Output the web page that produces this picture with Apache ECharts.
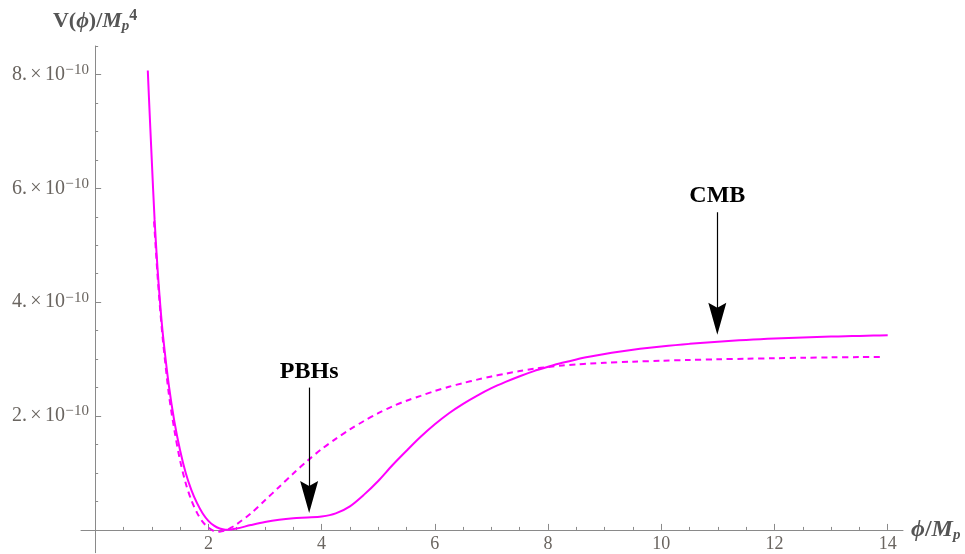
<!DOCTYPE html>
<html>
<head>
<meta charset="utf-8">
<script src="https://cdn.jsdelivr.net/npm/echarts@6/dist/echarts.min.js"></script>
<style>
  html, body { margin: 0; padding: 0; background: #fff; }
  #chart { width: 965px; height: 554px; }
</style>
</head>
<body>
<div id="chart"></div>
<script>
  // V(phi)/Mp^4, values in units of 1e-10
  var phiSolid = [0.93, 0.95, 1.0, 1.05, 1.1, 1.15, 1.2, 1.3, 1.4, 1.5, 1.6, 1.7, 1.8, 1.9, 2.0, 2.1, 2.2, 2.3, 2.4,
    2.5, 2.75, 3.0, 3.25, 3.5, 3.75, 4.0, 4.25, 4.5, 4.75, 5.0, 5.25, 5.5, 5.75, 6.0, 6.25, 6.5, 6.75, 7.0, 7.25,
    7.5, 7.75, 8.0, 8.25, 8.5, 8.75, 9.0, 9.25, 9.5, 9.75, 10.0, 10.25, 10.5, 10.75, 11.0, 11.25, 11.5, 11.75,
    12.0, 12.25, 12.5, 12.75, 13.0, 13.25, 13.5, 13.75, 14.0];
  var vSolid = [8.07, 7.6, 6.5, 5.45, 4.62, 3.95, 3.4, 2.55, 1.9, 1.4, 1.0, 0.7, 0.47, 0.29, 0.16, 0.075, 0.025, 0.004, 0.008,
    0.025, 0.085, 0.14, 0.18, 0.205, 0.218, 0.235, 0.29, 0.415, 0.62, 0.86, 1.135, 1.39, 1.635, 1.855, 2.05, 2.215, 2.36,
    2.49, 2.6, 2.7, 2.79, 2.865, 2.935, 2.995, 3.045, 3.09, 3.13, 3.165, 3.195, 3.222, 3.246, 3.268, 3.288, 3.306,
    3.322, 3.337, 3.35, 3.362, 3.372, 3.381, 3.389, 3.396, 3.402, 3.408, 3.413, 3.418];

  var phiDashed = [1.04, 1.1, 1.15, 1.2, 1.3, 1.4, 1.5, 1.6, 1.7, 1.8, 1.9, 2.0, 2.1, 2.2, 2.3, 2.4, 2.5, 2.75, 3.0,
    3.25, 3.5, 3.75, 4.0, 4.25, 4.5, 4.75, 5.0, 5.25, 5.5, 5.75, 6.0, 6.25, 6.5, 6.75, 7.0, 7.25, 7.5, 7.75, 8.0,
    8.25, 8.5, 8.75, 9.0, 9.5, 10, 10.5, 11, 11.5, 12, 12.5, 13, 13.5, 13.93];
  var vDashed = [5.42, 4.5, 3.85, 3.3, 2.4, 1.75, 1.22, 0.82, 0.52, 0.3, 0.14, 0.04, -0.02, -0.03, -0.01, 0.04, 0.1,
    0.29, 0.52, 0.755, 0.99, 1.215, 1.42, 1.6, 1.765, 1.915, 2.05, 2.17, 2.27, 2.355, 2.44, 2.515, 2.58, 2.64, 2.695,
    2.745, 2.79, 2.83, 2.862, 2.887, 2.906, 2.922, 2.936, 2.955, 2.972, 2.985, 2.997, 3.007, 3.016, 3.024, 3.031,
    3.036, 3.04];

  var xTickLabels = [2, 4, 6, 8, 10, 12, 14];
  var yTickLabels = [2, 4, 6, 8]; // times 1e-10

  // annotations: [label, phi, V at tail, V at head]
  var pbhArrow = ['PBHs', 3.78, 2.5, 0.58];
  var cmbArrow = ['CMB', 10.99, 5.58, 3.71];

  function zip(xs, ys) {
    return xs.map(function (x, i) { return [x, ys[i]]; });
  }
  function halfTicks(from, to, skip) {
    var out = [];
    for (var v = from; v <= to + 1e-9; v += 0.5) {
      if (skip.indexOf(v) < 0) out.push(v);
    }
    return out;
  }

  var serif = 'Liberation Serif';
  var axisColor = '#8a8a8a';
  var labelColor = '#6a6560';
  var nameColor = '#555';
  var xMin = -0.25, xMax = 14.27, yMin = -0.4, yMax = 8.5;

  var arrowHead = 'path://M0,0 L9,32 L0,27 L-9,32 Z';

  function arrowLine(a) {
    return [{ name: a[0], coord: [a[1], a[2]] }, { coord: [a[1], a[3]] }];
  }

  var chart = echarts.init(document.getElementById('chart'));
  var option = {
    animation: false,
    backgroundColor: '#fff',
    grid: { left: 81, right: 62, top: 46, bottom: 1.3, outerBoundsMode: 'none', containLabel: false },
    xAxis: [{
      type: 'value', min: xMin, max: xMax, position: 'bottom',
      name: '{i|ϕ}{r|/}{i|M}{sub|p}', nameLocation: 'end', nameGap: 8,
      nameTextStyle: {
        rich: {
          i: { fontFamily: serif, fontStyle: 'italic', fontWeight: 'bold', fontSize: 24, color: nameColor, lineHeight: 26 },
          r: { fontFamily: serif, fontWeight: 'bold', fontSize: 24, color: nameColor, lineHeight: 26 },
          sub: { fontFamily: serif, fontStyle: 'italic', fontWeight: 'bold', fontSize: 15, color: nameColor, lineHeight: 12, verticalAlign: 'bottom' }
        }
      },
      axisLine: { show: true, onZero: true, onZeroAxisIndex: 0, lineStyle: { color: axisColor, width: 1 } },
      axisTick: { show: true, inside: true, length: 6, customValues: xTickLabels, lineStyle: { color: axisColor } },
      // labels sit at the grid edge, pulled up to the zero line
      axisLabel: {
        customValues: xTickLabels, fontFamily: serif, fontSize: 18, lineHeight: 16,
        color: labelColor, margin: -16
      },
      splitLine: { show: false }
    }, {
      type: 'value', min: xMin, max: xMax, position: 'bottom',
      axisLine: { show: false, onZero: true, onZeroAxisIndex: 1 },
      axisTick: { show: true, inside: true, length: 3, customValues: halfTicks(0.5, 14, xTickLabels), lineStyle: { color: axisColor } },
      axisLabel: { show: false },
      splitLine: { show: false }
    }],
    yAxis: [{
      type: 'value', min: yMin, max: yMax, position: 'left',
      name: '{b|V(}{i|ϕ}{b|)/}{i|M}{sub|p}{sup|4}', nameLocation: 'end', nameGap: 12,
      nameTextStyle: {
        rich: {
          b: { fontFamily: serif, fontWeight: 'bold', fontSize: 22, color: nameColor, lineHeight: 26 },
          i: { fontFamily: serif, fontStyle: 'italic', fontWeight: 'bold', fontSize: 22, color: nameColor, lineHeight: 26 },
          sub: { fontFamily: serif, fontStyle: 'italic', fontWeight: 'bold', fontSize: 15, color: nameColor, lineHeight: 12, verticalAlign: 'bottom' },
          sup: { fontFamily: serif, fontWeight: 'bold', fontSize: 16, color: nameColor, lineHeight: 14, verticalAlign: 'top' }
        }
      },
      axisLine: { show: true, onZero: true, onZeroAxisIndex: 0, lineStyle: { color: axisColor, width: 1 } },
      axisTick: { show: true, inside: true, length: 6, customValues: yTickLabels, lineStyle: { color: axisColor } },
      axisLabel: {
        customValues: yTickLabels, margin: -8,
        formatter: function (v) { return '{m|' + v + '.}{x|×}{m|10}{mi|−}{s|10}'; },
        rich: {
          m: { fontFamily: serif, fontSize: 20, color: labelColor, lineHeight: 24 },
          x: { fontFamily: serif, fontSize: 20, color: labelColor, lineHeight: 24, width: 18, align: 'center' },
          mi: { fontFamily: serif, fontSize: 15, color: labelColor, lineHeight: 14, verticalAlign: 'top', width: 9, align: 'center' },
          s: { fontFamily: serif, fontSize: 15, color: labelColor, lineHeight: 14, verticalAlign: 'top' }
        }
      },
      splitLine: { show: false }
    }, {
      type: 'value', min: yMin, max: yMax, position: 'left',
      axisLine: { show: false, onZero: true, onZeroAxisIndex: 1 },
      axisTick: { show: true, inside: true, length: 3, customValues: halfTicks(0.5, 8.5, yTickLabels), lineStyle: { color: axisColor } },
      axisLabel: { show: false },
      splitLine: { show: false }
    }],
    series: [{
      type: 'line', name: 'solid', xAxisIndex: 0, yAxisIndex: 0,
      data: zip(phiSolid, vSolid),
      smooth: 0.3, showSymbol: false, clip: false,
      lineStyle: { color: '#ff00ff', width: 2 },
      markLine: {
        silent: true,
        symbol: ['none', arrowHead],
        symbolSize: [18, 32],
        lineStyle: { color: '#000', width: 1.2, type: 'solid' },
        itemStyle: { color: '#000' },
        label: {
          show: true, position: 'start', formatter: '{b}', distance: 4,
          fontFamily: serif, fontWeight: 'bold', fontSize: 24, color: '#000'
        },
        emphasis: { disabled: true },
        data: [arrowLine(pbhArrow), arrowLine(cmbArrow)]
      }
    }, {
      type: 'line', name: 'dashed', xAxisIndex: 0, yAxisIndex: 0,
      data: zip(phiDashed, vDashed),
      smooth: 0.3, showSymbol: false, clip: false,
      lineStyle: { color: '#ff00ff', width: 2, type: [6, 4.5] }
    }]
  };
  chart.setOption(option);
</script>
</body>
</html>
